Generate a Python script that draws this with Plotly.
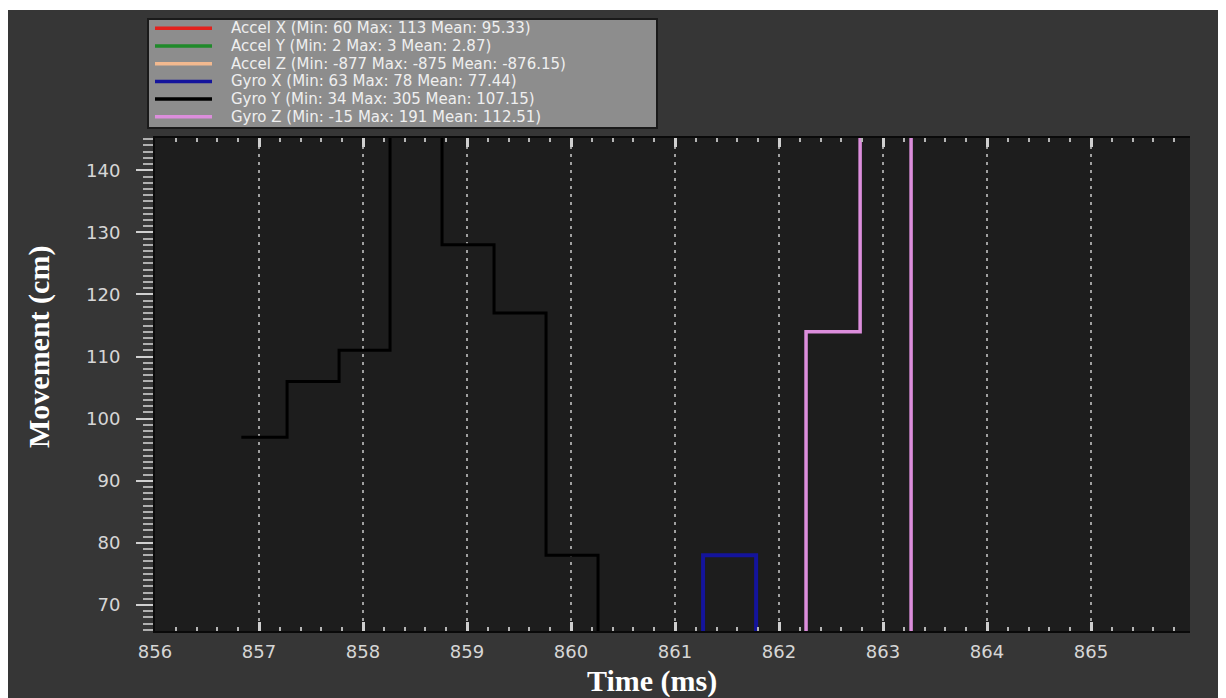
import plotly.graph_objects as go

# ---------------- data ----------------
series_names = ["Accel X", "Accel Y", "Accel Z", "Gyro X", "Gyro Y", "Gyro Z"]
series_min = [60, 2, -877, 63, 34, -15]
series_max = [113, 3, -875, 78, 305, 191]
series_mean = [95.33, 2.87, -876.15, 77.44, 107.15, 112.51]
series_colors = ["#e3211c", "#1f8a2a", "#f2b98f", "#14149c", "#000000", "#dc8edc"]

# samples inside the shown window (time in ms, movement in cm)
accel_x_time, accel_x_val = [], []
accel_y_time, accel_y_val = [], []
accel_z_time, accel_z_val = [], []
gyro_x_time = [860.77, 861.27, 861.78]
gyro_x_val = [63, 78, 63]
gyro_y_time = [856.83, 857.27, 857.77, 858.26, 858.76, 859.26, 859.76, 860.26]
gyro_y_val = [97, 106, 111, 305, 128, 117, 78, 34]
gyro_z_time = [861.77, 862.26, 862.78, 863.27]
gyro_z_val = [-15, 114, 191, -15]

x_tick_vals = [856, 857, 858, 859, 860, 861, 862, 863, 864, 865]
y_tick_vals = [70, 80, 90, 100, 110, 120, 130, 140]

times = [accel_x_time, accel_y_time, accel_z_time, gyro_x_time, gyro_y_time, gyro_z_time]
values = [accel_x_val, accel_y_val, accel_z_val, gyro_x_val, gyro_y_val, gyro_z_val]
widths = [3, 3, 3, 4, 3, 3.5]

# ---------------- layout geometry ----------------
OFF = 8                      # page body margin in the browser
W_FIG, H_FIG = 1226 - OFF, 698 - OFF
L, R, T, B = 147, 36, 130, 67
PW = W_FIG - L - R
PH = H_FIG - T - B


def px_x(p):
    """screen pixel x -> paper coordinate"""
    return (p - OFF - L) / PW


def px_y(p):
    """screen pixel y -> paper coordinate"""
    return (H_FIG - B - (p - OFF)) / PH


fig = go.Figure()
for name, t, v, c, w in zip(series_names, times, values, series_colors, widths):
    fig.add_trace(go.Scatter(
        x=t, y=v, mode="lines", name=name,
        line=dict(color=c, width=w, shape="hv"),
        showlegend=False, hoverinfo="skip",
    ))

tick_font = dict(family="DejaVu Sans", size=18, color="#d6d6d6")

fig.update_layout(
    width=W_FIG, height=H_FIG,
    margin=dict(l=L, r=R, t=T, b=B),
    paper_bgcolor="#363636",
    plot_bgcolor="#1d1d1d",
    showlegend=False,
    xaxis=dict(
        range=[856, 856 + PW / 104.0],
        tickvals=x_tick_vals,
        ticktext=[str(v) for v in x_tick_vals],
        tickfont=tick_font,
        ticks="inside", ticklen=9, tickwidth=2.5, tickcolor="#cfcfcf",
        minor=dict(dtick=0.2, ticks="inside", ticklen=4, tickwidth=2,
                   tickcolor="#b5b5b5", showgrid=False),
        showline=True, linecolor="#0a0a0a", linewidth=2,
        mirror="ticks",
        showgrid=True, gridcolor="#a0a0a0", griddash="3px,5px", gridwidth=2,
        zeroline=False,
        ticklabelstandoff=3,
    ),
    yaxis=dict(
        range=[65.8, 145.2],
        tickvals=y_tick_vals,
        ticktext=[str(v) for v in y_tick_vals],
        tickfont=tick_font,
        ticks="outside", ticklen=17, tickwidth=2, tickcolor="#cfcfcf",
        minor=dict(dtick=1, ticks="outside", ticklen=10, tickwidth=1.5,
                   tickcolor="#b0b0b0", showgrid=False),
        showline=True, linecolor="#0a0a0a", linewidth=2,
        showgrid=False, zeroline=False,
        ticklabelstandoff=12,
    ),
)

shapes = []
annotations = []

# white strip at the very top of the image
shapes.append(dict(type="rect", xref="paper", yref="paper",
                   x0=px_x(0), x1=px_x(1240), y0=px_y(10), y1=px_y(0),
                   fillcolor="#ffffff", line=dict(width=0), layer="above"))

# legend box
LEG_X0, LEG_X1, LEG_Y0, LEG_Y1 = 148, 657, 19, 128
shapes.append(dict(type="rect", xref="paper", yref="paper",
                   x0=px_x(LEG_X0), x1=px_x(LEG_X1), y0=px_y(LEG_Y1), y1=px_y(LEG_Y0),
                   fillcolor="#8d8d8d", line=dict(color="#1a1a1a", width=2), layer="above"))
ROW0, ROW_STEP = 28.3, 17.7
for i, (name, mn, mx, mean, col) in enumerate(zip(series_names, series_min, series_max,
                                                    series_mean, series_colors)):
    ry = ROW0 + i * ROW_STEP
    shapes.append(dict(type="line", xref="paper", yref="paper",
                       x0=px_x(155), x1=px_x(212), y0=px_y(ry), y1=px_y(ry),
                       line=dict(color=col, width=3.5), layer="above"))
    annotations.append(dict(
        xref="paper", yref="paper", x=px_x(230), y=px_y(ry),
        xanchor="left", yanchor="middle", showarrow=False, borderpad=0,
        text=f"{name} (Min: {mn} Max: {mx} Mean: {mean:.2f})",
        font=dict(family="DejaVu Sans", size=15, color="#efefef"),
    ))

# axis titles
annotations.append(dict(
    xref="paper", yref="paper", x=px_x(652), y=px_y(681),
    xanchor="center", yanchor="middle", showarrow=False, borderpad=0,
    text="<b>Time (ms)</b>",
    font=dict(family="Liberation Serif", size=30, color="#ffffff"),
))
annotations.append(dict(
    xref="paper", yref="paper", x=px_x(39), y=px_y(347),
    xanchor="center", yanchor="middle", showarrow=False, textangle=-90,
    text="<b>Movement (cm)</b>",
    font=dict(family="Liberation Serif", size=30, color="#ffffff"),
))

fig.update_layout(shapes=shapes, annotations=annotations)

fig.write_html("out.html")
